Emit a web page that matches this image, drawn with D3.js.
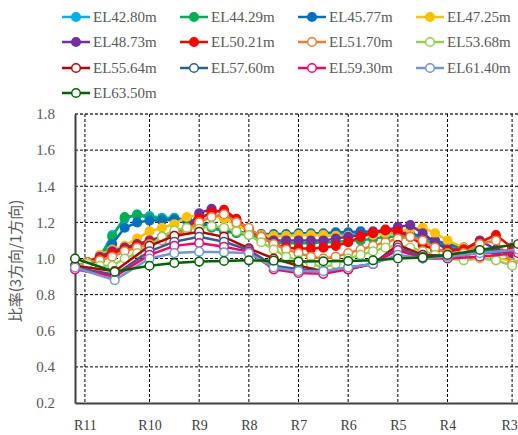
<!DOCTYPE html>
<html><head><meta charset="utf-8">
<script src="https://cdn.jsdelivr.net/npm/d3@7"></script>
<style>body{margin:0;background:#fff}svg{display:block}.sf{font-family:"Liberation Serif","DejaVu Serif",serif}</style>
</head><body><svg id="c" width="518" height="435"></svg>
<script>
// x positions (same units; ring marks below)
const tickLabels = ["R11","R10","R9","R8","R7","R6","R5","R4","R3"];
const tickPos = [0,1.3,2.3,3.3,4.3,5.3,6.3,7.3,8.6];
const yTicks = [0.2,0.4,0.6,0.8,1.0,1.2,1.4,1.6,1.8];
const xDense = [-0.2,0.05,0.3,0.55,0.8,1.05,1.3,1.55,1.8,2.05,2.3,2.55,2.8,3.05,3.3,3.55,3.8,4.05,4.3,4.55,4.8,5.05,5.3,5.55,5.8,6.05,6.3,6.55,6.8,7.05,7.3,7.625,7.95,8.275,8.6,8.72];
const xSparse = [-0.2,0.6,1.3,1.8,2.3,2.8,3.3,3.8,4.3,4.8,5.3,5.8,6.3,6.8,7.3,7.95,8.72];

const names = ["EL42.80m","EL44.29m","EL45.77m","EL47.25m","EL48.73m","EL50.21m","EL51.70m","EL53.68m","EL55.64m","EL57.60m","EL59.30m","EL61.40m","EL63.50m"];
const colors = ["#00b0f0","#00b050","#0070c0","#ffc000","#7030a0","#ff0000","#ed7d31","#92d050","#c00000","#2f5f8f","#ff0066","#6f96d9","#006400"];
const filled = [true,true,true,true,true,true,false,false,false,false,false,false,false];

const s4280 = [0.95,0.97,1.01,1.13,1.22,1.245,1.235,1.225,1.225,1.215,1.20,1.18,1.165,1.15,1.135,1.13,1.13,1.13,1.135,1.135,1.13,1.13,1.135,1.14,1.14,1.14,1.14,1.13,1.11,1.09,1.07,1.06,1.05,1.04,1.03,1.02];
const s4429 = [0.96,0.97,1.0,1.12,1.23,1.24,1.225,1.22,1.22,1.21,1.19,1.17,1.15,1.14,1.13,1.11,1.09,1.085,1.085,1.085,1.09,1.09,1.10,1.10,1.11,1.12,1.12,1.12,1.10,1.08,1.06,1.05,1.05,1.04,1.04,1.03];
const s4577 = [0.95,0.97,0.99,1.08,1.17,1.20,1.21,1.21,1.215,1.215,1.20,1.18,1.16,1.15,1.14,1.135,1.135,1.135,1.14,1.14,1.14,1.145,1.145,1.15,1.15,1.15,1.15,1.14,1.12,1.10,1.08,1.06,1.05,1.04,1.03,1.03];
const s4725 = [0.95,0.98,1.02,1.05,1.07,1.11,1.15,1.17,1.19,1.23,1.24,1.24,1.22,1.19,1.15,1.13,1.125,1.125,1.13,1.13,1.13,1.125,1.125,1.125,1.13,1.14,1.15,1.16,1.17,1.14,1.10,1.06,1.03,1.0,0.99,1.0];
const s4873 = [0.95,0.98,1.01,1.04,1.06,1.08,1.10,1.12,1.14,1.17,1.25,1.275,1.25,1.21,1.16,1.12,1.10,1.10,1.10,1.10,1.10,1.11,1.12,1.13,1.14,1.155,1.175,1.185,1.14,1.09,1.05,1.05,1.10,1.05,1.03,1.03];
const s5021 = [0.95,0.98,1.0,1.03,1.05,1.07,1.09,1.11,1.13,1.16,1.22,1.255,1.27,1.22,1.16,1.12,1.08,1.06,1.055,1.055,1.06,1.07,1.09,1.12,1.145,1.16,1.15,1.12,1.075,1.05,1.04,1.05,1.09,1.13,1.06,1.01];
const s5170 = [0.96,0.98,0.99,1.01,1.04,1.06,1.08,1.10,1.13,1.16,1.20,1.23,1.245,1.20,1.17,1.12,1.08,1.05,1.03,1.01,1.0,1.01,1.03,1.05,1.07,1.09,1.11,1.12,1.10,1.06,1.03,1.03,1.08,1.10,0.97,1.03];
const s5368 = [0.95,0.97,0.96,0.96,1.0,1.03,1.075,1.12,1.155,1.17,1.165,1.18,1.17,1.15,1.13,1.09,1.05,1.01,0.99,0.97,0.95,0.97,1.0,1.02,1.04,1.06,1.075,1.06,1.04,1.02,1.0,0.99,1.0,0.99,0.96,1.01];
const s5564 = [0.96,0.93,1.07,1.125,1.148,1.12,1.056,1.0,0.96,0.93,0.94,0.97,1.075,1.02,1.015,1.03,1.05];
const s5760 = [0.95,0.91,1.04,1.093,1.12,1.093,1.047,0.96,0.94,0.93,0.95,0.97,1.06,1.01,1.01,1.03,1.04];
const s5930 = [0.94,0.90,1.02,1.07,1.086,1.065,1.038,0.94,0.92,0.915,0.94,0.97,1.047,1.0,1.0,1.01,1.03];
const s6140 = [0.95,0.88,1.0,1.03,1.038,1.035,1.03,0.95,0.93,0.93,0.95,0.97,1.02,1.0,1.01,1.03,1.05];
const s6350 = [1.0,0.927,0.96,0.975,0.983,0.986,0.99,0.988,0.983,0.985,0.986,0.99,1.0,1.005,1.02,1.047,1.08];

const seriesVals = [s4280,s4429,s4577,s4725,s4873,s5021,s5170,s5368,s5564,s5760,s5930,s6140,s6350];
const series = names.map((n,i)=>{
  const xs = seriesVals[i].length === xDense.length ? xDense : xSparse;
  return {name:n, color:colors[i], filled:filled[i], pts: seriesVals[i].map((v,j)=>({x:xs[j], y:v}))};
});

const svg = d3.select("#c");
const pLeft = 75, pTop = 114, pBottom = 403;
const x = d3.scaleLinear().domain([-0.2, 8.8]).range([pLeft, pLeft + 9*49.67]);
const y = d3.scaleLinear().domain([0.2, 1.8]).range([pBottom, pTop]);
const gray = "#595959";

// grid
const grid = svg.append("g");
grid.selectAll("line.h").data(yTicks.slice(1)).join("line")
  .attr("x1", pLeft).attr("x2", 518).attr("y1", d=>y(d)).attr("y2", d=>y(d))
  .attr("stroke", d=> d===1.8 ? "#333" : "#000").attr("stroke-width", d=> d===1.8 ? 1.5 : 1)
  .attr("stroke-dasharray", "3,2");
grid.selectAll("line.v").data(tickPos).join("line")
  .attr("x1", d=>x(d)).attr("x2", d=>x(d)).attr("y1", pTop).attr("y2", pBottom)
  .attr("stroke", "#000").attr("stroke-width", 1).attr("stroke-dasharray", "3,2");

// axes
const yAxis = d3.axisLeft(y).tickValues(yTicks).tickFormat(d3.format(".1f")).tickSize(0).tickPadding(20);
const gy = svg.append("g").attr("transform", `translate(${pLeft},0)`).call(yAxis);
gy.attr("font-family", null);
gy.select(".domain").attr("stroke", "#404040").attr("stroke-width", 2);
gy.selectAll("text").attr("class", "sf").style("font-size", "15px").attr("fill", gray);

const xAxis = d3.axisBottom(x).tickValues(tickPos).tickFormat((d,i)=>tickLabels[i]).tickSize(0).tickPadding(17);
const gx = svg.append("g").attr("transform", `translate(0,${pBottom})`).call(xAxis);
gx.attr("font-family", null);
gx.select(".domain").attr("stroke", "#404040").attr("stroke-width", 2);
gx.selectAll("text").attr("class", "sf").style("font-size", "14px").attr("fill", "#404040")
  .attr("dx", (d,i)=> i===tickLabels.length-1 ? -3 : 0);

// y title
svg.append("text").attr("transform", "translate(21,261) rotate(-90)")
  .attr("text-anchor", "middle").style("font-family", "'Noto Sans CJK JP'")
  .style("font-size", "15px").attr("fill", gray).text("比率(3方向/1方向)");

// series
const line = d3.line().x(d=>x(d.x)).y(d=>y(d.y));
const gs = svg.append("g");
series.forEach(s=>{
  const g = gs.append("g");
  g.append("path").attr("d", line(s.pts)).attr("fill","none").attr("stroke", s.color).attr("stroke-width", 2.5);
  g.selectAll("circle").data(s.pts).join("circle")
    .attr("cx", d=>x(d.x)).attr("cy", d=>y(d.y)).attr("r", 4.3)
    .attr("fill", s.filled ? s.color : "#fff").attr("stroke", s.color).attr("stroke-width", 1.5);
});

// legend
const colX = [62,180,298,416], rowY = [17,42,68,93];
series.forEach((s,i)=>{
  const lx = colX[i%4], ly = rowY[Math.floor(i/4)];
  const g = svg.append("g");
  g.append("line").attr("x1", lx).attr("x2", lx+28).attr("y1", ly).attr("y2", ly).attr("stroke", s.color).attr("stroke-width", 2.5);
  g.append("circle").attr("cx", lx+14).attr("cy", ly).attr("r", 4.3)
    .attr("fill", s.filled ? s.color : "#fff").attr("stroke", s.color).attr("stroke-width", 1.5);
  g.append("text").attr("class", "sf").attr("x", lx+31).attr("y", ly+5).style("font-size", "15px")
    .attr("fill", gray).text(s.name);
});
</script></body></html>
